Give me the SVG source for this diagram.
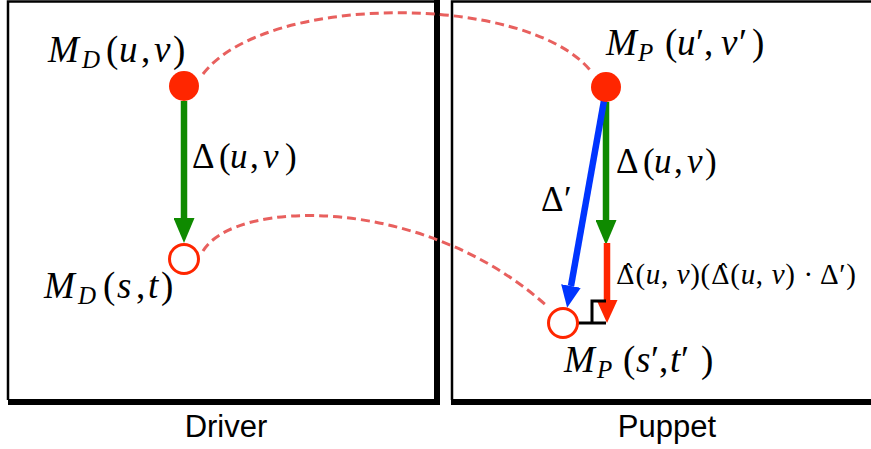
<svg xmlns="http://www.w3.org/2000/svg" width="871" height="449" viewBox="0 0 871 449">
<style>
.m{font-family:"Liberation Serif","DejaVu Serif",serif;fill:#000;font-size:37px}
.i{font-style:italic}
.sub{font-size:25px;font-style:italic}
.d{font-size:35px}
.f{font-size:29px}
.hat{font-family:"DejaVu Serif",serif;font-size:26px}
.cap{font-family:"Liberation Sans",Arial,sans-serif;font-size:31px;fill:#000;text-anchor:middle}
.dash{fill:none;stroke:#E8605E;stroke-width:3;stroke-dasharray:9 5}
.edge{fill:none;stroke-width:6.5}
</style>
<defs>
<marker id="hg" markerUnits="userSpaceOnUse" viewBox="0 0 25 21" markerWidth="25" markerHeight="21" refX="0" refY="10.5" orient="auto"><path d="M0,0 L25,10.5 L0,21 Z" fill="#0F8A00"/></marker>
<marker id="hr" markerUnits="userSpaceOnUse" viewBox="0 0 23 21" markerWidth="23" markerHeight="21" refX="0" refY="10.5" orient="auto"><path d="M0,0 L23,10.5 L0,21 Z" fill="#FF2600"/></marker>
<marker id="hb" markerUnits="userSpaceOnUse" viewBox="0 0 22 20" markerWidth="22" markerHeight="20" refX="0" refY="10" orient="auto"><path d="M0,0 L22,10 L0,20 Z" fill="#0035FF"/></marker>
</defs>

<g id="driver-box">
<path d="M8,400 V1.5 H435" fill="none" stroke="#000" stroke-width="2.5"/>
<path d="M434,0 H440 V405 H8 V399 H434 Z" fill="#000"/>
<text class="cap" x="226" y="437">Driver</text>
</g>

<g id="puppet-box">
<path d="M452,400 V1.5 H871" fill="none" stroke="#000" stroke-width="2.5"/>
<path d="M451,399 H871 V405 H451 Z" fill="#000"/>
<text class="cap" x="667" y="437">Puppet</text>
</g>

<g id="connectors">
<path class="dash" d="M203,74 C265,-7 525,-7 590,70"/>
<path class="dash" d="M203,251 C235,198 425,195 548,307"/>
<line class="edge" x1="184" y1="101" x2="184" y2="218" stroke="#0F8A00" marker-end="url(#hg)"/>
<line class="edge" x1="606" y1="102" x2="606" y2="220" stroke="#0F8A00" marker-end="url(#hg)"/>
<line class="edge" x1="607" y1="243" x2="607" y2="300" stroke="#FF2600" marker-end="url(#hr)"/>
<line class="edge" x1="605" y1="95" x2="571" y2="286" stroke="#0035FF" marker-end="url(#hb)"/>
<path d="M578,323 H606 M592,323 V301 H606" fill="none" stroke="#000" stroke-width="3"/>
</g>

<g id="md-uv">
<circle cx="184" cy="86" r="15" fill="#FF2600"/>
<text class="m" y="62"><tspan class="i" x="48">M</tspan><tspan class="sub" x="82" y="68">D</tspan><tspan x="106" y="62">(</tspan><tspan class="i" x="119">u</tspan><tspan x="141">,</tspan><tspan class="i" x="154">v</tspan><tspan x="173">)</tspan></text>
</g>

<g id="md-st">
<circle cx="184" cy="259" r="14.5" fill="#fff" stroke="#FF2600" stroke-width="3"/>
<text class="m" y="298"><tspan class="i" x="44">M</tspan><tspan class="sub" x="78" y="304">D</tspan><tspan x="103" y="298">(</tspan><tspan class="i" x="117">s</tspan><tspan x="136">,</tspan><tspan class="i" x="148">t</tspan><tspan x="161">)</tspan></text>
</g>

<g id="mp-uv">
<circle cx="606" cy="87" r="15" fill="#FF2600"/>
<text class="m" y="55"><tspan class="i" x="606">M</tspan><tspan class="sub" x="638" y="61">P</tspan><tspan x="665" y="55">(</tspan><tspan class="i" x="677">u</tspan><tspan x="696">′</tspan><tspan x="704">,</tspan><tspan class="i" x="721">v</tspan><tspan x="739">′</tspan><tspan x="752">)</tspan></text>
</g>

<g id="mp-st">
<circle cx="563" cy="323" r="14.5" fill="#fff" stroke="#FF2600" stroke-width="3"/>
<text class="m" y="372"><tspan class="i" x="564">M</tspan><tspan class="sub" x="597" y="378">P</tspan><tspan x="623" y="372">(</tspan><tspan class="i" x="636">s</tspan><tspan x="651">′</tspan><tspan x="659">,</tspan><tspan class="i" x="670">t</tspan><tspan x="681">′</tspan><tspan x="701">)</tspan></text>
</g>

<g id="label-delta-driver">
<text class="m d" y="168"><tspan x="192">Δ</tspan><tspan x="219">(</tspan><tspan class="i" x="230">u</tspan><tspan x="250">,</tspan><tspan class="i" x="263">v</tspan><tspan x="285">)</tspan></text>
</g>

<g id="label-delta-puppet">
<text class="m d" y="173"><tspan x="616">Δ</tspan><tspan x="643">(</tspan><tspan class="i" x="654">u</tspan><tspan x="674">,</tspan><tspan class="i" x="687">v</tspan><tspan x="705">)</tspan></text>
</g>

<g id="label-delta-prime">
<text class="m d" y="211"><tspan x="541">Δ</tspan><tspan x="564">′</tspan></text>
</g>

<g id="label-projection">
<text class="m f" x="616" y="284" textLength="240" lengthAdjust="spacing"><tspan class="hat">Δ̂</tspan>(<tspan class="i">u</tspan>, <tspan class="i">v</tspan>)(<tspan class="hat">Δ̂</tspan>(<tspan class="i">u</tspan>, <tspan class="i">v</tspan>) · Δ′)</text>
</g>
</svg>
